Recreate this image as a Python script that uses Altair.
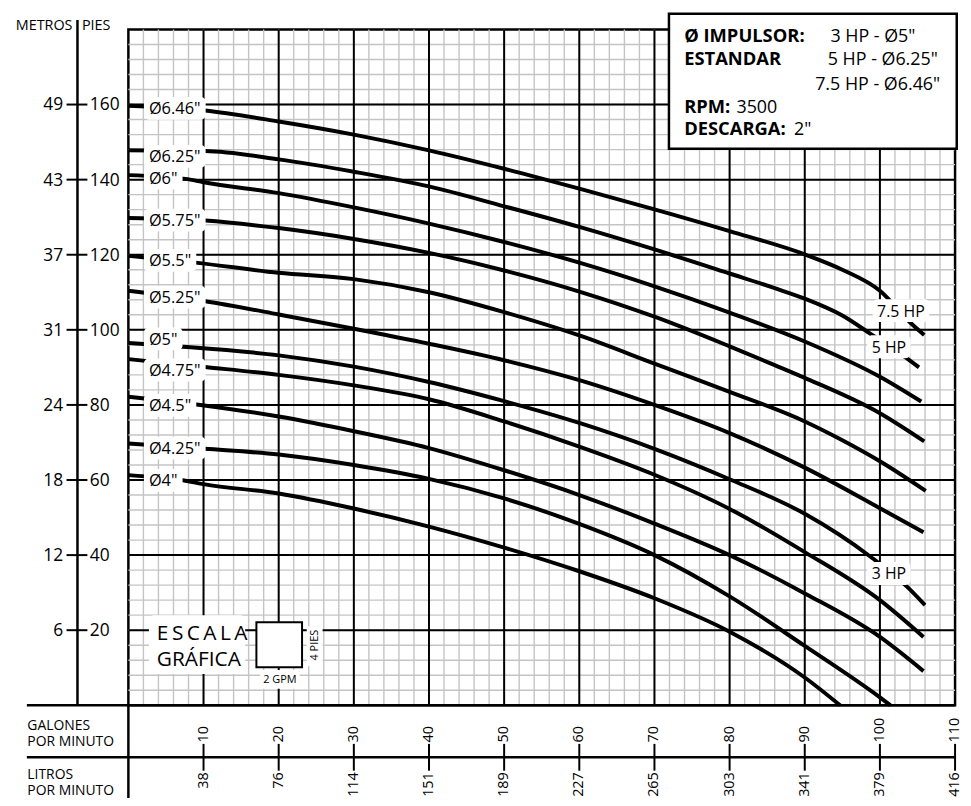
import altair as alt
import pandas as pd

FONT = "Open Sans"

# ---------------- data ----------------
curve_labels = ['Ø6.46"', 'Ø6.25"', 'Ø6"', 'Ø5.75"', 'Ø5.5"', 'Ø5.25"',
                'Ø5"', 'Ø4.75"', 'Ø4.5"', 'Ø4.25"', 'Ø4"']

g646 = [0, 10.2, 20, 30, 40, 50, 60, 70, 80, 90, 95, 100, 104.2, 105.9]
f646 = [159.7, 158.4, 155.5, 152.0, 147.8, 142.9, 137.6, 132.1, 126.3, 120.1, 116.0, 110.4, 101.6, 98.6]

g625 = [0, 10.2, 20, 30, 40, 50, 60, 70, 80, 86, 90, 95, 98.7, 103.6, 105.2]
f625 = [147.8, 147.6, 145.4, 142.1, 138.2, 132.9, 127.4, 121.4, 115.0, 111.1, 108.3, 103.8, 99.0, 92.4, 90.0]

g600 = [0, 7.6, 10, 20, 30, 40, 50, 60, 70, 80, 90, 100, 105.5]
f600 = [141.2, 140.2, 139.3, 136.4, 132.6, 128.3, 123.4, 117.9, 111.6, 104.6, 96.9, 87.5, 80.9]

g575 = [0, 10.2, 20, 30, 40, 50, 60, 70, 80, 86, 90, 100, 105.9]
f575 = [129.8, 129.1, 127.1, 124.2, 120.5, 115.8, 110.2, 103.5, 95.6, 90.6, 87.2, 77.8, 70.3]

g550 = [0, 8.9, 20, 30, 40, 50, 60, 70, 80, 90, 95, 100, 106.1]
f550 = [119.7, 117.9, 115.2, 113.5, 110.0, 104.7, 98.5, 91.0, 83.5, 75.6, 70.6, 65.0, 57.1]

g525 = [0, 10.2, 20, 30, 40, 50, 60, 70, 80, 90, 100, 105.8]
f525 = [110.4, 107.6, 104.1, 100.3, 96.3, 91.9, 86.6, 80.0, 72.5, 63.3, 52.5, 46.1]

g500 = [0, 6.5, 20, 30, 40, 50, 60, 70, 80, 90, 98.8, 103.6, 106]
f500 = [96.5, 95.6, 93.2, 90.2, 86.1, 81.0, 75.2, 68.3, 60.2, 51.0, 39.5, 31.6, 26.7]

g475 = [0, 10.2, 20, 30, 40, 50, 60, 70, 80, 90, 100, 105.8]
f475 = [92.2, 90.1, 88.0, 85.2, 81.5, 75.6, 68.9, 61.4, 52.3, 40.8, 28.0, 18.2]

g450 = [0, 9.6, 20, 30, 40, 50, 60, 70, 80, 90, 100, 105.8]
f450 = [82.2, 80.0, 76.9, 73.0, 68.5, 62.6, 56.0, 48.4, 40.0, 29.8, 18.2, 9.1]

g425 = [0, 10.2, 20, 30, 40, 50, 60, 70, 80, 90, 100, 101.4]
f425 = [69.7, 68.3, 66.8, 64.0, 60.3, 55.1, 48.3, 40.0, 29.0, 15.8, 2.1, 0]

g400 = [0, 7.6, 10, 20, 30, 40, 50, 60, 70, 80, 90, 94.7]
f400 = [61.3, 59.8, 58.9, 56.4, 52.4, 47.6, 42.0, 35.7, 28.5, 19.6, 7.4, 0]

curve_g = [g646, g625, g600, g575, g550, g525, g500, g475, g450, g425, g400]
curve_f = [f646, f625, f600, f575, f550, f525, f500, f475, f450, f425, f400]

# where each diameter label sits (feet)
label_ft = [159.0, 146.2, 140.4, 129.2, 118.5, 108.7, 97.6, 89.3, 79.9, 68.5, 59.9]

hp_labels = ["7.5 HP", "5 HP", "3 HP"]
hp_gpm = [102.8, 101.2, 101.2]
hp_ft = [105.1, 95.5, 35.1]

gpm_ticks = [10, 20, 30, 40, 50, 60, 70, 80, 90, 100, 110]
lpm_labels = ["38", "76", "114", "151", "189", "227", "265", "303", "341", "379", "416"]
ft_ticks = [20, 40, 60, 80, 100, 120, 140, 160]
metros_labels = ["6", "12", "18", "24", "31", "37", "43", "49"]

info_bold = ["Ø IMPULSOR:", "ESTANDAR", "RPM:", "DESCARGA:"]
info_vals = ['3 HP - Ø5"', '5 HP - Ø6.25"', '7.5 HP - Ø6.46"', "3500", '2"']

# ---------------- geometry / style ----------------
W, H = 833, 681
XMAX, YMAX = 110, 180
PXU = W / XMAX   # px per GPM
PYU = H / YMAX   # px per foot
OX, OY = 129.3, 26.6   # page position of the plot origin


def px(xp):
    return xp - OX


def py(yp):
    return yp - OY


xs = alt.Scale(domain=[0, XMAX], nice=False, zero=False)
ys = alt.Scale(domain=[0, YMAX], nice=False, zero=False)
dummy = pd.DataFrame({"d": [0]})


def T(text, x, y, size=14, weight="normal", align="left", baseline="alphabetic", angle=0):
    return alt.Chart(dummy).mark_text(
        text=text, font=FONT, fontSize=size, fontWeight=weight,
        align=align, baseline=baseline, angle=angle, color="black"
    ).encode(x=alt.value(x), y=alt.value(y))


def R(x, x2, y, y2, stroke=False, sw=2.5, r=0):
    kw = dict(fill="white", cornerRadius=r)
    if stroke:
        kw.update(stroke="black", strokeWidth=sw)
    return alt.Chart(dummy).mark_rect(**kw).encode(
        x=alt.value(x), x2=alt.value(x2), y=alt.value(y), y2=alt.value(y2))


def HL(x, x2, y, w=2.5):
    return alt.Chart(dummy).mark_rule(color="black", strokeWidth=w).encode(
        x=alt.value(x), x2=alt.value(x2), y=alt.value(y))


def VL(x, y, y2, w=2.5):
    return alt.Chart(dummy).mark_rule(color="black", strokeWidth=w).encode(
        x=alt.value(x), y=alt.value(y), y2=alt.value(y2))


layers = []

# minor grid: every 2 GPM and every 4 ft
minor_x = pd.DataFrame({"g": list(range(2, 110, 2))})
minor_y = pd.DataFrame({"f": list(range(4, 180, 4))})
layers.append(alt.Chart(minor_x).mark_rule(color="#c4c4c4", strokeWidth=1.4).encode(
    x=alt.X("g:Q", scale=xs, axis=None)))
layers.append(alt.Chart(minor_y).mark_rule(color="#c4c4c4", strokeWidth=1.4).encode(
    y=alt.Y("f:Q", scale=ys, axis=None)))

# major grid
layers.append(alt.Chart(pd.DataFrame({"g": gpm_ticks[:-1]})).mark_rule(
    color="black", strokeWidth=2).encode(x=alt.X("g:Q", scale=xs, axis=None)))
layers.append(alt.Chart(pd.DataFrame({"f": ft_ticks})).mark_rule(
    color="black", strokeWidth=2).encode(y=alt.Y("f:Q", scale=ys, axis=None)))

# curves
rows = []
for name, gs, fs in zip(curve_labels, curve_g, curve_f):
    for i, (g, f) in enumerate(zip(gs, fs)):
        rows.append({"name": name, "i": i, "gpm": g, "ft": f})
cdf = pd.DataFrame(rows)
curves = alt.Chart(cdf).mark_line(color="black", strokeWidth=4, interpolate="monotone").encode(
    x=alt.X("gpm:Q", scale=xs, axis=None),
    y=alt.Y("ft:Q", scale=ys, axis=None),
    detail="name:N", order="i:Q")
layers.append(curves)

# diameter labels with white boxes
LBL_SIZE = 16.5
WID = {"Ø": 0.78, ".": 0.266, '"': 0.40}


def text_w(s, size):
    return sum(WID.get(c, 0.572) for c in s) * size


lab_x = 2.73
ldf = pd.DataFrame({"t": curve_labels, "f": label_ft})
ldf["x"] = lab_x
ldf["bx"] = 2.07
ldf["bx2"] = [lab_x + (text_w(s, LBL_SIZE) + 5) / PXU for s in curve_labels]
ldf["by"] = ldf["f"] - 11.5 / PYU
ldf["by2"] = ldf["f"] + 11.5 / PYU
layers.append(alt.Chart(ldf).mark_rect(fill="white", cornerRadius=5).encode(
    x=alt.X("bx:Q", scale=xs, axis=None), x2="bx2:Q",
    y=alt.Y("by:Q", scale=ys, axis=None), y2="by2:Q"))
layers.append(alt.Chart(ldf).mark_text(
    font=FONT, fontSize=LBL_SIZE, align="left", baseline="middle", color="black", dy=1).encode(
    x=alt.X("x:Q", scale=xs, axis=None), y=alt.Y("f:Q", scale=ys, axis=None), text="t:N"))

# HP labels with white boxes
HP_SIZE = 16
hdf = pd.DataFrame({"t": hp_labels, "g": hp_gpm, "f": hp_ft})
hw = [(text_w(s, HP_SIZE) * 0.98 + 8) / 2 / PXU for s in hp_labels]
hdf["bx"] = [g - w for g, w in zip(hp_gpm, hw)]
hdf["bx2"] = [g + w for g, w in zip(hp_gpm, hw)]
hdf["by"] = hdf["f"] - 11.5 / PYU
hdf["by2"] = hdf["f"] + 11.5 / PYU
layers.append(alt.Chart(hdf).mark_rect(fill="white", cornerRadius=5).encode(
    x=alt.X("bx:Q", scale=xs, axis=None), x2="bx2:Q",
    y=alt.Y("by:Q", scale=ys, axis=None), y2="by2:Q"))
layers.append(alt.Chart(hdf).mark_text(
    font=FONT, fontSize=HP_SIZE, align="center", baseline="middle", color="black", dy=1).encode(
    x=alt.X("g:Q", scale=xs, axis=None), y=alt.Y("f:Q", scale=ys, axis=None), text="t:N"))

# graphic scale block
layers.append(R(px(150), px(247), py(617), py(676), r=5))
layers.append(T("E\u2009S\u2009C\u2009A\u2009L\u2009A", px(158), py(642), size=21))
layers.append(T("GRÁFICA", px(158), py(668), size=21))
layers.append(R(px(258.3), px(304.3), py(624), py(669.3), stroke=True, sw=2))
layers.append(R(px(309), px(325), py(628), py(668)))
layers.append(T("4 PIES", px(317.5), py(647), size=11, align="center", baseline="middle", angle=270))
layers.append(R(px(262), px(302), py(672), py(691)))
layers.append(T("2 GPM", px(282), py(682), size=11, align="center", baseline="middle"))

# info box
layers.append(R(px(674), px(964), py(10.7), py(146.7), stroke=True, sw=2.5))
bx = px(689.3)
BS = 18.5
layers.append(T(info_bold[0], bx, py(39.3), size=BS, weight="bold"))
layers.append(T(info_bold[1], bx, py(62.7), size=BS, weight="bold"))
layers.append(T(info_bold[2], bx, py(111), size=BS, weight="bold"))
layers.append(T(info_bold[3], bx, py(132.7), size=BS, weight="bold"))
layers.append(T(info_vals[0], px(836.7), py(39.3), size=18))
layers.append(T(info_vals[1], px(834), py(62.7), size=18))
layers.append(T(info_vals[2], px(947.3), py(87.3), size=18, align="right"))
layers.append(T(info_vals[3], px(742), py(111), size=18))
layers.append(T(info_vals[4], px(800), py(132.7), size=18))

# left axis block (METROS | PIES)
layers.append(VL(px(78), py(17), H, w=2.5))
fdf = pd.DataFrame({"f": ft_ticks, "m": metros_labels})
layers.append(alt.Chart(fdf).mark_rule(color="black", strokeWidth=2).encode(
    y=alt.Y("f:Q", scale=ys, axis=None), x=alt.value(px(67)), x2=alt.value(px(88))))
layers.append(alt.Chart(fdf).mark_text(
    font=FONT, fontSize=17.5, align="left", baseline="middle", color="black", dy=1).encode(
    y=alt.Y("f:Q", scale=ys, axis=None), x=alt.value(px(90.5)), text="f:N"))
layers.append(alt.Chart(fdf).mark_text(
    font=FONT, fontSize=17.5, align="right", baseline="middle", color="black", dy=1).encode(
    y=alt.Y("f:Q", scale=ys, axis=None), x=alt.value(px(63.5)), text="m:N"))
layers.append(T("METROS", px(73), py(27), size=14.5, align="right"))
layers.append(T("PIES", px(82.5), py(27), size=14.5))

# bottom block (GPM / LPM)
layers.append(HL(px(27), W, H, w=2.5))
layers.append(HL(px(27), W, py(760), w=2.5))
layers.append(VL(0, H, py(806), w=2.5))
gdf = pd.DataFrame({"g": gpm_ticks, "l": lpm_labels})
layers.append(alt.Chart(gdf).mark_rule(color="black", strokeWidth=2).encode(
    x=alt.X("g:Q", scale=xs, axis=None), y=alt.value(py(746.5)), y2=alt.value(py(773.5))))
layers.append(alt.Chart(gdf).mark_text(
    font=FONT, fontSize=14.5, align="left", baseline="middle", angle=270, color="black").encode(
    x=alt.X("g:Q", scale=xs, axis=None), y=alt.value(py(745)), text="g:N"))
layers.append(alt.Chart(gdf).mark_text(
    font=FONT, fontSize=14.5, align="right", baseline="middle", angle=270, color="black").encode(
    x=alt.X("g:Q", scale=xs, axis=None), y=alt.value(py(775)), text="l:N"))
layers.append(T("GALONES", px(27.5), py(732.3), size=14))
layers.append(T("POR MINUTO", px(27.5), py(748.3), size=14))
layers.append(T("LITROS", px(27.5), py(781.7), size=14))
layers.append(T("POR MINUTO", px(27.5), py(797.5), size=14))

chart = alt.layer(*layers).properties(
    width=W, height=H,
    autosize=alt.AutoSizeParams(type="none"),
    padding={"left": OX - 8, "top": OY - 8, "right": 8, "bottom": 90},
).configure_view(stroke="black", strokeWidth=2.5)

chart.save("out.html", embed_options={"renderer": "svg", "actions": False})
